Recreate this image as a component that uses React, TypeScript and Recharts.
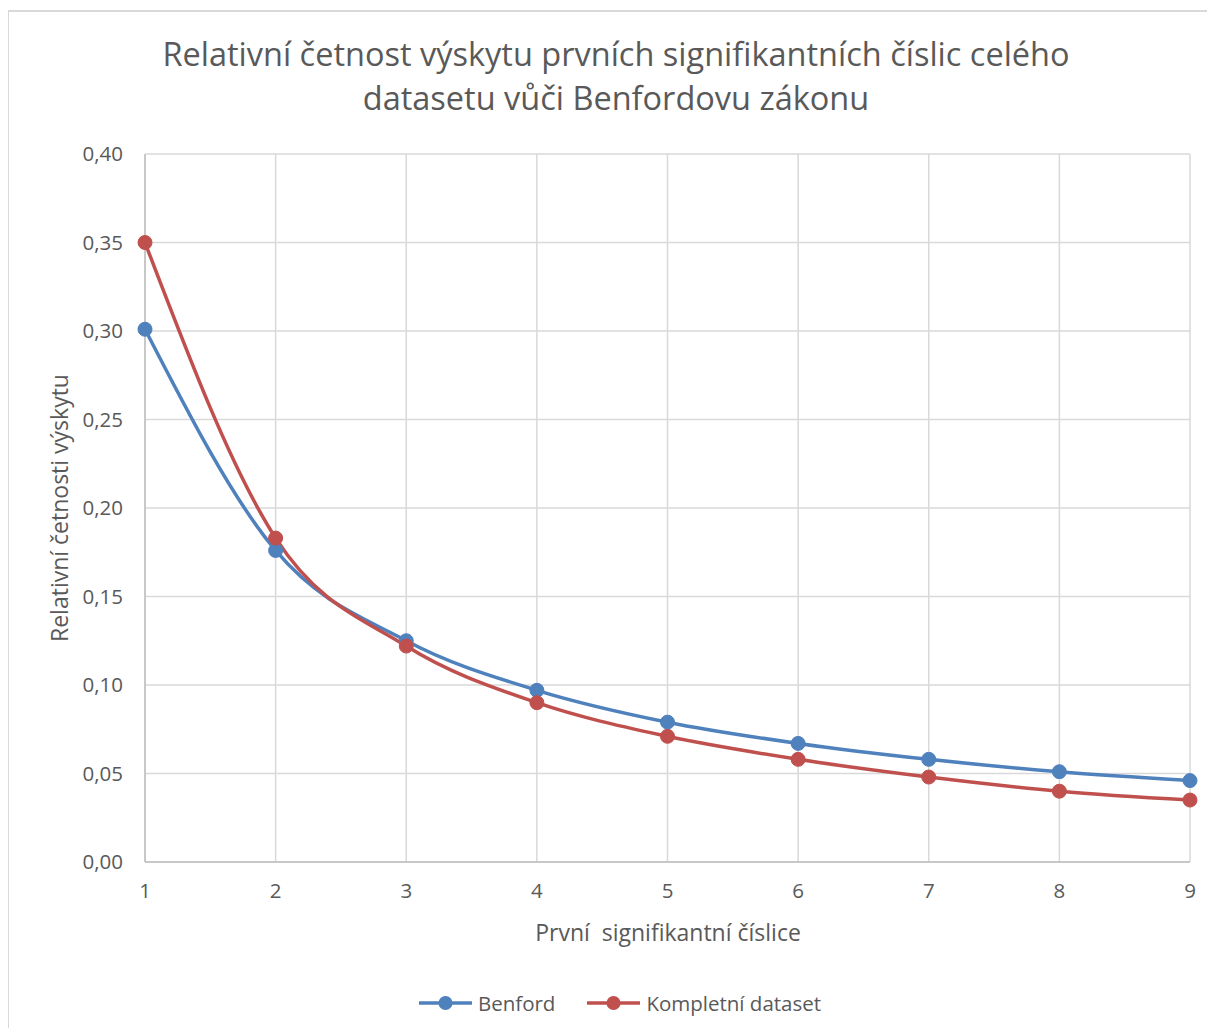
import React from 'react';
import { LineChart, Line, XAxis, YAxis, CartesianGrid } from 'recharts';

const digits = [1, 2, 3, 4, 5, 6, 7, 8, 9];
const benford = [0.301, 0.176, 0.125, 0.097, 0.079, 0.067, 0.058, 0.051, 0.046];
const dataset = [0.35, 0.183, 0.122, 0.09, 0.071, 0.058, 0.048, 0.04, 0.035];
const yTicks = [0, 0.05, 0.1, 0.15, 0.2, 0.25, 0.3, 0.35, 0.4];

const data = digits.map((d, i) => ({ digit: d, benford: benford[i], dataset: dataset[i] }));

const FONT = '"Open Sans", "Noto Sans", sans-serif';
const TEXT = '#595959';
const BLUE = '#4f81bd';
const RED = '#c0504d';

const legendItems = [
  { label: 'Benford', color: BLUE },
  { label: 'Kompletní dataset', color: RED },
];

function ChartLegend() {
  return (
    <div style={{ position: 'absolute', left: 0, width: 1240, top: 988, display: 'flex', justifyContent: 'center', gap: 32, fontSize: 20.5, lineHeight: '30px', color: TEXT }}>
      {legendItems.map((it) => (
        <div key={it.label} style={{ display: 'flex', alignItems: 'center', gap: 6 }}>
          <svg width={53} height={16}>
            <line x1={0} y1={8} x2={53} y2={8} stroke={it.color} strokeWidth={3.5} />
            <circle cx={26.5} cy={8} r={7} fill={it.color} />
          </svg>
          <span>{it.label}</span>
        </div>
      ))}
    </div>
  );
}

export default function App() {
  return (
    <div style={{ position: 'relative', margin: -8, width: 1215, height: 1036, background: '#fff', overflow: 'hidden', fontFamily: FONT }}>
      <div style={{ position: 'absolute', left: 7, top: 10, width: 1230, height: 1050, borderTop: '2px solid #d9d9d9', borderLeft: '2px solid #d9d9d9' }} />
      <div style={{ position: 'absolute', left: 0, width: 1232, top: 32, textAlign: 'center', fontSize: 32.5, lineHeight: '44px', color: TEXT }}>
        Relativní četnost výskytu prvních signifikantních číslic celého
        <br />
        datasetu vůči Benfordovu zákonu
      </div>
      <div style={{ position: 'absolute', left: 59, top: 508, transform: 'translate(-50%, -50%) rotate(-90deg)', whiteSpace: 'nowrap', fontSize: 23, color: TEXT }}>
        Relativní četnosti výskytu
      </div>
      <div style={{ position: 'absolute', left: 0, width: 1336, top: 916, textAlign: 'center', whiteSpace: 'pre', fontSize: 23, color: TEXT }}>
        {'První  signifikantní číslice'}
      </div>
      <div style={{ position: 'absolute', left: 0, top: 0 }}>
        <LineChart width={1215} height={1036} data={data} margin={{ top: 154, right: 25, bottom: 134, left: 85 }}>
          <CartesianGrid stroke="#d9d9d9" strokeWidth={1.5} />
          <XAxis
            dataKey="digit"
            type="number"
            domain={[1, 9]}
            ticks={digits}
            height={40}
            tickLine={false}
            axisLine={{ stroke: '#bfbfbf', strokeWidth: 1.5 }}
            tick={{ fill: TEXT, fontSize: 20.5, fontFamily: FONT }}
            tickMargin={15}
          />
          <YAxis
            domain={[0, 0.4]}
            ticks={yTicks}
            width={60}
            tickLine={false}
            axisLine={{ stroke: '#bfbfbf', strokeWidth: 1.5 }}
            tick={{ fill: TEXT, fontSize: 20.5, fontFamily: FONT }}
            tickFormatter={(v: number) => v.toFixed(2).replace('.', ',')}
            tickMargin={16}
          />
          <Line type="monotone" dataKey="benford" name="Benford" stroke={BLUE} strokeWidth={3.5} dot={{ r: 7, fill: BLUE, stroke: BLUE, strokeWidth: 1 }} isAnimationActive={false} />
          <Line type="monotone" dataKey="dataset" name="Kompletní dataset" stroke={RED} strokeWidth={3.5} dot={{ r: 7, fill: RED, stroke: RED, strokeWidth: 1 }} isAnimationActive={false} />
        </LineChart>
      </div>
      <ChartLegend />
    </div>
  );
}
